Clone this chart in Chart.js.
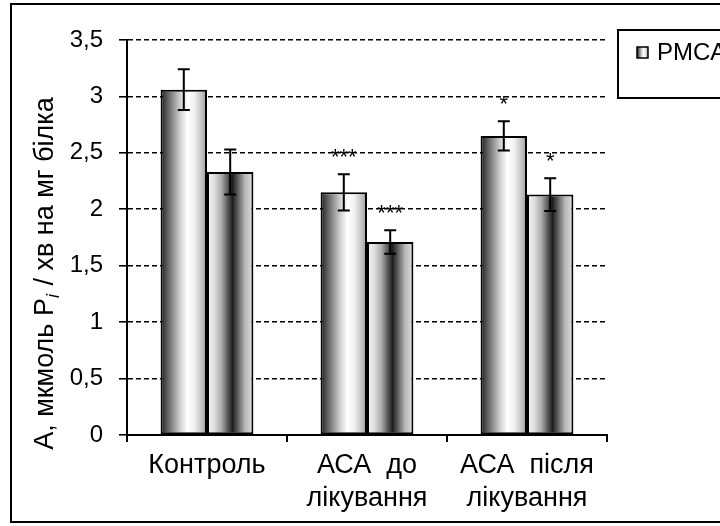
<!DOCTYPE html>
<html>
<head>
<meta charset="utf-8">
<script src="https://cdn.jsdelivr.net/npm/chart.js@4"></script>
<style>
  html, body { margin: 0; padding: 0; background: #fff; }
  #wrap { width: 720px; height: 526px; }
</style>
</head>
<body>
<div id="wrap"><canvas id="atpChart" width="720" height="526"></canvas></div>
<script>
// categories and series
var groups = [["Контроль"], ["АСА  до", "лікування"], ["АСА  після", "лікування"]];
var seriesNames = ["PMCA", "SERCA"];
var pmcaValues = [3.06, 2.15, 2.65];
var pmcaErrors = [0.18, 0.16, 0.13];
var pmcaMarks = ["", "***", "*"];
var secondValues = [2.33, 1.71, 2.13];
var secondErrors = [0.20, 0.105, 0.145];
var secondMarks = ["", "***", "*"];

var FONT = "'Liberation Sans', Arial, sans-serif";
var CAT_PCT = 0.58;

// stripes of the two bar styles (left -> right)
var barShades = [
    [[0, "#1a1a1a"], [0.1, "#4a4a4a"], [0.25, "#8a8a8a"], [0.42, "#cfcfcf"], [0.58, "#ffffff"], [0.72, "#f2f2f2"], [0.88, "#c4c4c4"], [1, "#9a9a9a"]],
    [[0, "#f4f4f4"], [0.15, "#e0e0e0"], [0.32, "#a8a8a8"], [0.46, "#505050"], [0.55, "#1e1e1e"], [0.66, "#5a5a5a"], [0.82, "#b8b8b8"], [1, "#e2e2e2"]]
];

function makeShade(ctx, x0, x1, which) {
    var g = ctx.createLinearGradient(x0, 0, x1, 0);
    barShades[which].forEach(function (s) { g.addColorStop(s[0], s[1]); });
    return g;
}

function barFill(context) {
    var chart = context.chart;
    var xs = chart.scales.x;
    if (!chart.chartArea || !xs || context.type !== "data") return "#999";
    var cat = xs.width / groups.length;
    var bw = cat * CAT_PCT / 2;
    var center = xs.getPixelForValue(context.dataIndex) + (context.datasetIndex - 0.5) * bw;
    return makeShade(chart.ctx, center - bw / 2, center + bw / 2, context.datasetIndex);
}

var errorsByDataset = [pmcaErrors, secondErrors];
var marksByDataset = [pmcaMarks, secondMarks];

var framePlugin = {
    id: "frame",
    beforeDraw: function (chart) {
        var ctx = chart.ctx;
        ctx.save();
        ctx.fillStyle = "#fff";
        ctx.fillRect(0, 0, chart.width, chart.height);
        ctx.strokeStyle = "#000";
        ctx.lineWidth = 2;
        ctx.strokeRect(11, 4, 740, 518);
        ctx.restore();
    },
    afterDraw: function (chart) {
        var ctx = chart.ctx;
        ctx.save();
        // legend box
        ctx.strokeStyle = "#000";
        ctx.lineWidth = 2;
        ctx.strokeRect(618, 30, 140, 68);
        ctx.font = "24px " + FONT;
        ctx.textBaseline = "middle";
        var x = 637;
        for (var i = 0; i < seriesNames.length; i++) {
            ctx.fillStyle = makeShade(ctx, x, x + 11, i);
            ctx.fillRect(x, 47, 11, 11);
            ctx.lineWidth = 1.5;
            ctx.strokeRect(x, 47, 11, 11);
            ctx.fillStyle = "#000";
            ctx.fillText(seriesNames[i], x + 20, 53);
            x += 20 + ctx.measureText(seriesNames[i]).width + 20;
        }
        // y axis title with italic subscript
        ctx.translate(46, 274);
        ctx.rotate(-Math.PI / 2);
        ctx.textBaseline = "middle";
        var big = "27px " + FONT;
        var small = "italic 18px " + FONT;
        var p1 = "А, мкмоль P";
        var p2 = "i";
        var p3 = " / хв на мг білка";
        ctx.font = big;
        var w1 = ctx.measureText(p1).width;
        var w3 = ctx.measureText(p3).width;
        ctx.font = small;
        var w2 = ctx.measureText(p2).width;
        var start = -(w1 + w2 + w3) / 2;
        ctx.font = big;
        ctx.fillText(p1, start, 0);
        ctx.font = small;
        ctx.fillText(p2, start + w1, 8);
        ctx.font = big;
        ctx.fillText(p3, start + w1 + w2 + 1, 0);
        ctx.restore();
    }
};

var errorPlugin = {
    id: "errorBars",
    afterDatasetsDraw: function (chart) {
        var ctx = chart.ctx;
        var ys = chart.scales.y;
        ctx.save();
        ctx.strokeStyle = "#000";
        ctx.lineWidth = 2;
        ctx.fillStyle = "#000";
        ctx.font = "22px " + FONT;
        ctx.textAlign = "center";
        ctx.textBaseline = "alphabetic";
        chart.data.datasets.forEach(function (ds, di) {
            var meta = chart.getDatasetMeta(di);
            meta.data.forEach(function (bar, i) {
                var v = ds.data[i];
                var e = errorsByDataset[di][i];
                var top = ys.getPixelForValue(v + e);
                var bot = ys.getPixelForValue(v - e);
                ctx.beginPath();
                ctx.moveTo(bar.x, top);
                ctx.lineTo(bar.x, bot);
                ctx.moveTo(bar.x - 6, top);
                ctx.lineTo(bar.x + 6, top);
                ctx.moveTo(bar.x - 6, bot);
                ctx.lineTo(bar.x + 6, bot);
                ctx.stroke();
                var mark = marksByDataset[di][i];
                if (mark) ctx.fillText(mark, bar.x, top - 10);
            });
        });
        ctx.restore();
    }
};

function barSet(name, values) {
    return {
        label: name,
        data: values,
        backgroundColor: barFill,
        borderColor: "#000",
        borderWidth: 2,
        borderSkipped: false,
        barPercentage: 1,
        categoryPercentage: CAT_PCT
    };
}

var chart = new Chart("atpChart", {
    type: "bar",
    data: {
        labels: groups,
        datasets: [
            barSet(seriesNames[0], pmcaValues),
            barSet(seriesNames[1], secondValues)
        ]
    },
    options: {
        responsive: false,
        animation: false,
        layout: { padding: { top: 40, right: 113, left: 0, bottom: 0 } },
        plugins: {
            legend: { display: false },
            tooltip: { enabled: false },
            colors: { enabled: false }
        },
        scales: {
            x: {
                afterFit: function (s) { s.height = 91; },
                border: { color: "#000", width: 2 },
                grid: {
                    offset: true,
                    drawOnChartArea: false,
                    color: "#000",
                    lineWidth: 2,
                    tickLength: 7
                },
                ticks: {
                    color: "#000",
                    font: { family: FONT, size: 27, lineHeight: 1.22 },
                    padding: 7,
                    maxRotation: 0,
                    autoSkip: false
                }
            },
            y: {
                min: 0,
                max: 3.5,
                afterFit: function (s) { s.width = 127; },
                border: { color: "#000", width: 2, dash: [5, 3] },
                grid: {
                    color: "#000",
                    lineWidth: 1.6,
                    tickBorderDash: [],
                    tickColor: "#000",
                    tickLength: 8
                },
                ticks: {
                    stepSize: 0.5,
                    color: "#000",
                    padding: 16,
                    font: { family: FONT, size: 24 },
                    callback: function (v) { return String(v).replace(".", ","); }
                }
            }
        }
    },
    plugins: [framePlugin, errorPlugin]
});
</script>
</body>
</html>
